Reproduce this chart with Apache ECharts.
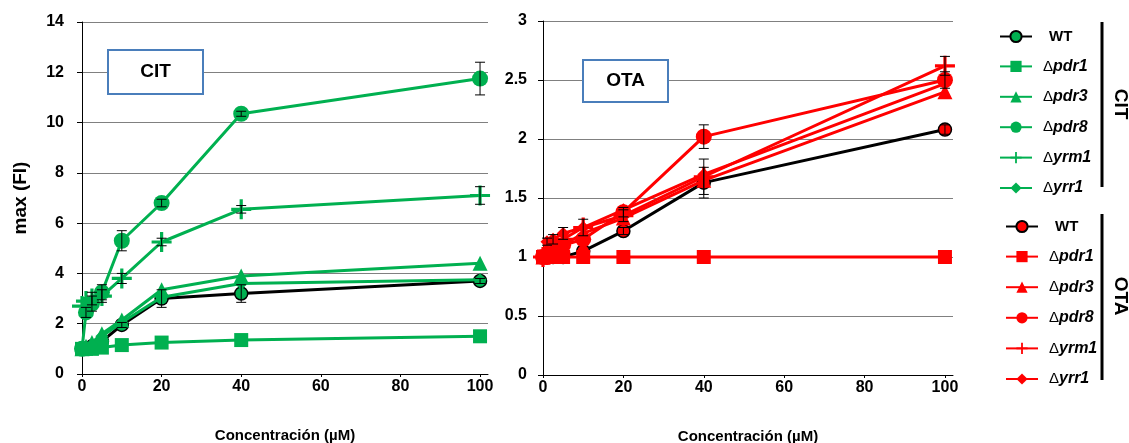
<!DOCTYPE html>
<html><head><meta charset="utf-8">
<script src="https://cdn.jsdelivr.net/npm/echarts@6/dist/echarts.min.js"></script>
<style>html,body{margin:0;padding:0;background:#fff}#c{width:1129px;height:443px}</style>
</head><body><div id="c"></div>
<script>
var conc = [0, 1, 2.5, 5, 10, 20, 40, 100];
var xTicks = [0, 20, 40, 60, 80, 100];
var strains = ['WT', 'pdr1', 'pdr3', 'pdr8', 'yrm1', 'yrr1'];

// CIT panel (green)
var citWT   = [1.0, 1.0, 1.1, 1.3, 1.95, 3.0, 3.2, 3.7];
var citPdr1 = [1.0, 1.0, 1.0, 1.05, 1.15, 1.25, 1.35, 1.5];
var citPdr3 = [1.0, 1.1, 1.25, 1.6, 2.15, 3.35, 3.9, 4.4];
var citPdr8 = [1.0, 2.45, 2.8, 3.25, 5.3, 6.8, 10.35, 11.75];
var citYrm1 = [2.7, 2.9, 3.0, 3.1, 3.8, 5.25, 6.55, 7.1];
var citYrr1 = [1.0, 1.05, 1.15, 1.5, 2.05, 3.05, 3.6, 3.75];
var citErrWT   = [0, 0, 0, 0, 0.1, 0.35, 0.35, 0.1];
var citErrPdr8 = [0, 0.2, 0.3, 0.3, 0.4, 0.15, 0.1, 0.65];
var citErrYrm1 = [0, 0, 0.25, 0.25, 0.2, 0.15, 0.15, 0.35];

// OTA panel (red)
var otaWT   = [1.0, 1.0, 1.0, 1.0, 1.05, 1.22, 1.63, 2.08];
var otaPdr1 = [1.0, 1.0, 1.0, 1.0, 1.0, 1.0, 1.0, 1.0];
var otaPdr3 = [1.0, 1.02, 1.05, 1.1, 1.2, 1.33, 1.65, 2.4];
var otaPdr8 = [1.0, 1.0, 1.03, 1.1, 1.15, 1.38, 2.02, 2.5];
var otaYrm1 = [1.0, 1.05, 1.1, 1.15, 1.25, 1.35, 1.68, 2.62];
var otaYrr1 = [1.0, 1.13, 1.15, 1.2, 1.25, 1.4, 1.7, 2.47];
var otaErrWT   = [0, 0, 0, 0, 0, 0.03, 0.13, 0.04];
var otaErrPdr8 = [0, 0, 0, 0, 0, 0.04, 0.1, 0.07];
var otaErrYrm1 = [0, 0, 0, 0, 0.07, 0.05, 0.15, 0.08];
var otaErrYrr1 = [0, 0.03, 0.04, 0.05, 0, 0, 0, 0];

var GREEN = '#00B050', RED = '#FF0000';
var PLUS = 'path://M-1.6,-10 L1.6,-10 L1.6,-1.6 L10,-1.6 L10,1.6 L1.6,1.6 L1.6,10 L-1.6,10 L-1.6,1.6 L-10,1.6 L-10,-1.6 L-1.6,-1.6 Z';
var symbols = {WT: 'circle', pdr1: 'rect', pdr3: 'triangle', pdr8: 'circle', yrm1: PLUS, yrr1: 'diamond'};
var sizes = {WT: 13, pdr1: 14, pdr3: 15, pdr8: 16, yrm1: 20, yrr1: 13};

function pts(ys) { return conc.map(function (x, i) { return [x, ys[i]]; }); }

function lineSeries(prefix, key, ys, color, gi) {
  var isWT = key === 'WT';
  return {
    name: prefix + '_' + key,
    type: 'line',
    xAxisIndex: gi, yAxisIndex: gi,
    data: pts(ys),
    symbol: symbols[key],
    symbolSize: sizes[key],
    lineStyle: {color: isWT ? '#000' : color, width: 3},
    itemStyle: {color: color, borderColor: isWT ? '#000' : color, borderWidth: isWT ? 1.5 : 0},
    z: isWT ? 2 : 3,
    animation: false
  };
}

function errSeries(gi, list) {
  var data = [];
  list.forEach(function (p) {
    p[0].forEach(function (y, i) { if (p[1][i] > 0) data.push([conc[i], y, p[1][i]]); });
  });
  return {
    type: 'custom', xAxisIndex: gi, yAxisIndex: gi, z: 4, animation: false, silent: true,
    data: data,
    renderItem: function (params, api) {
      var x = api.value(0), y = api.value(1), e = api.value(2);
      var top = api.coord([x, y + e]), bot = api.coord([x, y - e]);
      var s = {stroke: '#000', lineWidth: 1};
      return {type: 'group', children: [
        {type: 'line', shape: {x1: top[0], y1: top[1], x2: bot[0], y2: bot[1]}, style: s},
        {type: 'line', shape: {x1: top[0] - 5, y1: top[1], x2: top[0] + 5, y2: top[1]}, style: s},
        {type: 'line', shape: {x1: bot[0] - 5, y1: bot[1], x2: bot[0] + 5, y2: bot[1]}, style: s}
      ]};
    },
    encode: {x: 0, y: 1}
  };
}

var citData = {WT: citWT, pdr1: citPdr1, pdr3: citPdr3, pdr8: citPdr8, yrm1: citYrm1, yrr1: citYrr1};
var otaData = {WT: otaWT, pdr1: otaPdr1, pdr3: otaPdr3, pdr8: otaPdr8, yrm1: otaYrm1, yrr1: otaYrr1};

var series = [];
strains.forEach(function (k) { series.push(lineSeries('cit', k, citData[k], GREEN, 0)); });
strains.forEach(function (k) { series.push(lineSeries('ota', k, otaData[k], RED, 1)); });
series.push(errSeries(0, [[citWT, citErrWT], [citPdr8, citErrPdr8], [citYrm1, citErrYrm1]]));
series.push(errSeries(1, [[otaWT, otaErrWT], [otaPdr8, otaErrPdr8], [otaYrm1, otaErrYrm1], [otaYrr1, otaErrYrr1]]));

var FONT = '"Liberation Sans", Arial, sans-serif';
function xAxis(gi) {
  return {
    type: 'value', gridIndex: gi, min: 0, max: 102,
    axisLine: {lineStyle: {color: '#000', width: 1}},
    axisTick: {show: true, customValues: xTicks, length: 3, lineStyle: {color: '#000'}},
    axisLabel: {customValues: xTicks, color: '#000', fontWeight: 'bold', fontSize: 16, fontFamily: FONT, margin: 5},
    splitLine: {show: false},
    name: 'Concentración (µM)', nameLocation: 'middle', nameGap: 54,
    nameTextStyle: {color: '#000', fontWeight: 'bold', fontSize: 15, fontFamily: FONT}
  };
}
function yAxis(gi, max, interval, name) {
  return {
    type: 'value', gridIndex: gi, min: 0, max: max, interval: interval,
    axisLine: {show: true, lineStyle: {color: '#000', width: 1}},
    axisTick: {show: true, length: 5, lineStyle: {color: '#000'}},
    axisLabel: {color: '#000', fontWeight: 'bold', fontSize: 16, fontFamily: FONT, margin: gi === 0 ? 18 : 16},
    splitLine: {show: true, lineStyle: {color: '#808080', width: 1}},
    name: name, nameLocation: 'middle', nameGap: 52,
    nameTextStyle: {color: '#000', fontWeight: 'bold', fontSize: 19, fontFamily: FONT}
  };
}

var legendRich = {
  n: {fontWeight: 'bold', fontSize: 15, fontFamily: FONT, color: '#000', padding: [0, 0, 0, 12]},
  d: {fontSize: 15, fontFamily: FONT, color: '#000', padding: [0, 0, 0, 6]},
  i: {fontWeight: 'bold', fontStyle: 'italic', fontSize: 16, fontFamily: FONT, color: '#000'}
};
function legendFmt(name) {
  var k = name.split('_')[1];
  return k === 'WT' ? '{n|WT}' : '{d|Δ}{i|' + k + '}';
}
function legend(prefix, top, left, gap) {
  return {
    orient: 'vertical', left: left, top: top, itemWidth: 32, itemHeight: 14, itemGap: gap,
    data: strains.map(function (k) { return prefix + '_' + k; }),
    formatter: legendFmt, textStyle: {rich: legendRich}, selectedMode: false
  };
}

var option = {
  backgroundColor: '#fff',
  animation: false,
  grid: [
    {left: 82, top: 22, width: 406, height: 352, outerBoundsMode: 'none', containLabel: false},
    {left: 543, top: 21, width: 410, height: 354, outerBoundsMode: 'none', containLabel: false}
  ],
  xAxis: [xAxis(0), xAxis(1)],
  yAxis: [yAxis(0, 14, 2, 'max (FI)'), yAxis(1, 3, 0.5, '')],
  legend: [legend('cit', 24, 994, 14.4), legend('ota', 214, 1000, 14.6)],
  series: series,
  graphic: [
    {type: 'rect', shape: {x: 108, y: 50, width: 95, height: 44}, style: {fill: '#fff', stroke: '#4A7EBB', lineWidth: 2}, z: 10},
    {type: 'text', x: 155.5, y: 72, style: {text: 'CIT', font: 'bold 19px ' + FONT, fill: '#000', align: 'center', verticalAlign: 'middle'}, z: 11},
    {type: 'rect', shape: {x: 583, y: 60, width: 85, height: 42}, style: {fill: '#fff', stroke: '#4A7EBB', lineWidth: 2}, z: 10},
    {type: 'text', x: 625.5, y: 81, style: {text: 'OTA', font: 'bold 19px ' + FONT, fill: '#000', align: 'center', verticalAlign: 'middle'}, z: 11},
    {type: 'line', shape: {x1: 1102, y1: 22, x2: 1102, y2: 187}, style: {stroke: '#000', lineWidth: 3}},
    {type: 'line', shape: {x1: 1102, y1: 214, x2: 1102, y2: 380}, style: {stroke: '#000', lineWidth: 3}},
    {type: 'text', x: 1120, y: 104, rotation: -Math.PI / 2, style: {text: 'CIT', font: 'bold 19px ' + FONT, fill: '#000', align: 'center', verticalAlign: 'middle'}},
    {type: 'text', x: 1120, y: 296, rotation: -Math.PI / 2, style: {text: 'OTA', font: 'bold 19px ' + FONT, fill: '#000', align: 'center', verticalAlign: 'middle'}}
  ]
};

var chart = echarts.init(document.getElementById('c'), null, {renderer: 'canvas'});
chart.setOption(option);
</script>
</body></html>
